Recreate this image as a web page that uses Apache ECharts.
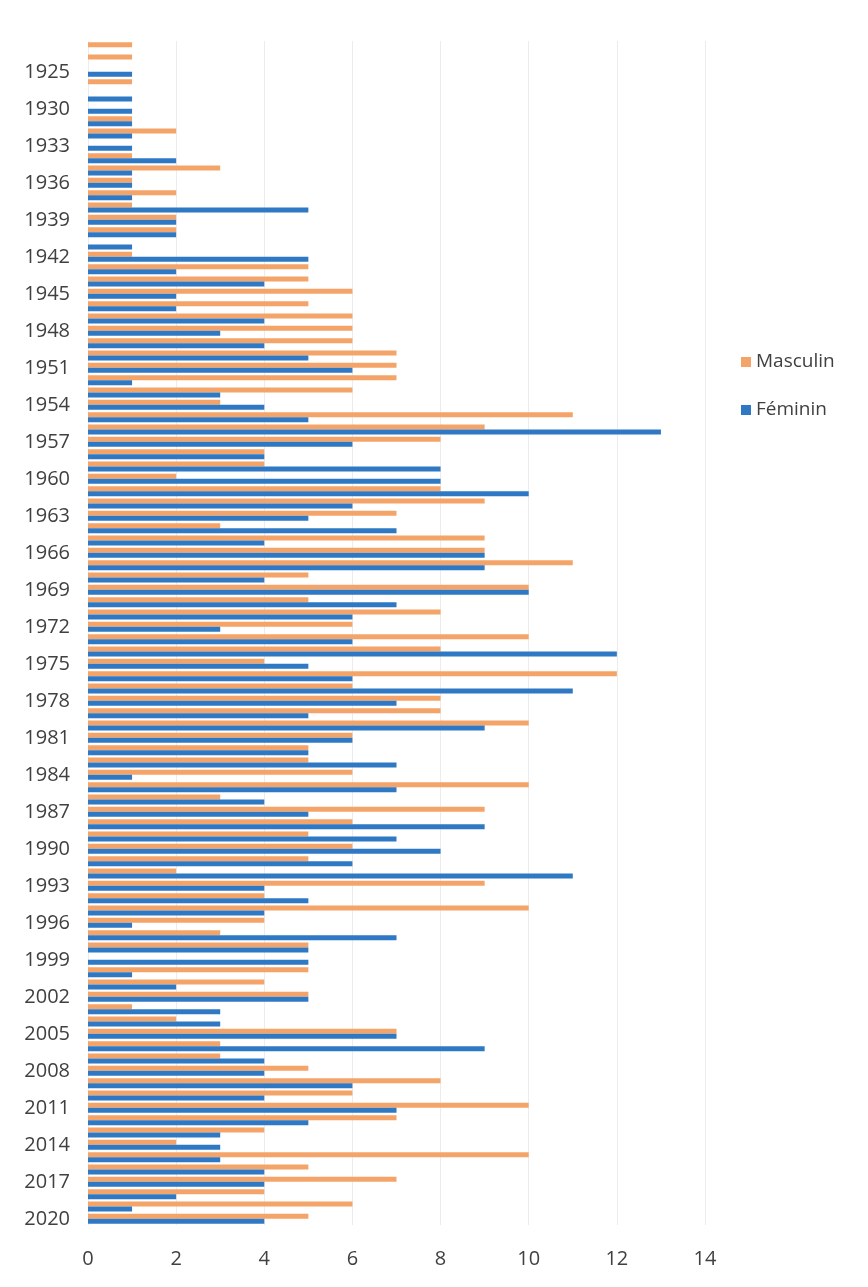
<!DOCTYPE html>
<html>
<head>
<meta charset="utf-8">
<script src="https://cdn.jsdelivr.net/npm/echarts@6/dist/echarts.min.js"></script>
<style>html,body{margin:0;padding:0;background:#fff}#c{width:868px;height:1287px}</style>
</head>
<body>
<div id="c"></div>
<script>
const years = ['1922','1924','1925','1926','1928','1930','1931','1932','1933','1934','1935','1936','1937','1938','1939','1940','1941','1942','1943','1944','1945','1946','1947','1948','1949','1950','1951','1952','1953','1954','1955','1956','1957','1958','1959','1960','1961','1962','1963','1964','1965','1966','1967','1968','1969','1970','1971','1972','1973','1974','1975','1976','1977','1978','1979','1980','1981','1982','1983','1984','1985','1986','1987','1988','1989','1990','1991','1992','1993','1994','1995','1996','1997','1998','1999','2000','2001','2002','2003','2004','2005','2006','2007','2008','2009','2010','2011','2012','2013','2014','2015','2016','2017','2018','2019','2020'];
const masculin = [1,1,0,1,0,0,1,2,0,1,3,1,2,1,2,2,0,1,5,5,6,5,6,6,6,7,7,7,6,3,11,9,8,4,4,2,8,9,7,3,9,9,11,5,10,5,8,6,10,8,4,12,6,8,8,10,6,5,5,6,10,3,9,6,5,6,5,2,9,4,10,4,3,5,0,5,4,5,1,2,7,3,3,5,8,6,10,7,4,2,10,5,7,4,6,5];
const feminin = [0,0,1,0,1,1,1,1,1,2,1,1,1,5,2,2,1,5,2,4,2,2,4,3,4,5,6,1,3,4,5,13,6,4,8,8,10,6,5,7,4,9,9,4,10,7,6,3,6,12,5,6,11,7,5,9,6,5,7,1,7,4,5,9,7,8,6,11,4,5,4,1,7,5,5,1,2,5,3,3,7,9,4,4,6,4,7,5,3,3,3,4,4,2,1,4];
const xTicks = {min: 0, max: 14, interval: 2};

const chart = echarts.init(document.getElementById('c'), null, {renderer: 'canvas'});
const N = years.length;
chart.setOption({
  backgroundColor: '#ffffff',
  animation: false,
  grid: {left: 88, right: 163, top: 41, bottom: 62, containLabel: false, outerBoundsMode: 'none'},
  legend: {
    orient: 'vertical', left: 736, top: 347,
    icon: 'rect', itemWidth: 10, itemHeight: 10, itemGap: 28,
    textStyle: {fontFamily: 'Open Sans', fontSize: 19, color: '#404040', lineHeight: 20},
    data: ['Masculin', 'Féminin']
  },
  xAxis: {
    type: 'value', min: xTicks.min, max: xTicks.max, interval: xTicks.interval,
    axisLine: {show: false}, axisTick: {show: false},
    splitLine: {show: true, lineStyle: {color: '#ececec', width: 1}},
    axisLabel: {fontFamily: 'Open Sans', fontSize: 20, color: '#404040', margin: 24}
  },
  yAxis: {
    type: 'category', data: years, inverse: true,
    axisLine: {show: false}, axisTick: {show: false}, splitLine: {show: false},
    axisLabel: {
      fontFamily: 'Open Sans', fontSize: 20, color: '#404040', margin: 18,
      interval: function (idx) { return (N - 1 - idx) % 3 === 0; }
    }
  },
  series: [
    {name: 'Masculin', type: 'bar', data: masculin, barWidth: 5, barGap: '0%', itemStyle: {color: '#f4a468'}},
    {name: 'Féminin', type: 'bar', data: feminin, barWidth: 5, barGap: '0%', itemStyle: {color: '#2e78c4'}}
  ]
});
</script>
</body>
</html>
